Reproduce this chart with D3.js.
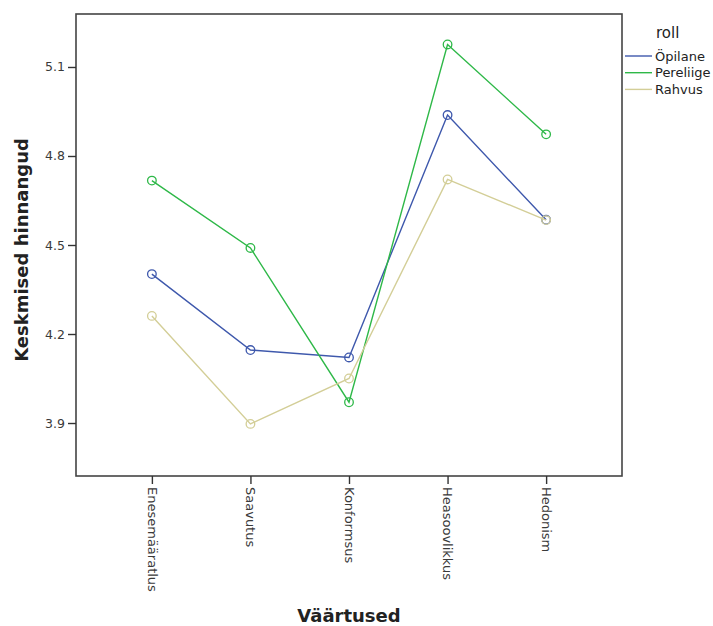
<!DOCTYPE html>
<html>
<head>
<meta charset="utf-8">
<script src="https://cdn.jsdelivr.net/npm/d3@7"></script>
<style>
  body { margin: 0; background: #fff; }
  text { font-family: "DejaVu Sans", sans-serif; }
</style>
</head>
<body>
<div id="chart"></div>
<script>
// Data
const categories = ["Enesemääratlus", "Saavutus", "Konformsus", "Heasoovlikkus", "Hedonism"];
const seriesNames = ["Öpilane", "Pereliige", "Rahvus"];
const opilane = [4.402, 4.146, 4.121, 4.938, 4.585];
const pereliige = [4.717, 4.490, 3.970, 5.176, 4.873];
const rahvus = [4.261, 3.897, 4.050, 4.721, 4.584];
const yTicks = [3.9, 4.2, 4.5, 4.8, 5.1];

const seriesValues = [opilane, pereliige, rahvus];
const colors = d3.scaleOrdinal()
  .domain(seriesNames)
  .range(["#3e58ac", "#2eb848", "#d3ce97"]);

// Dimensions
const W = 713, H = 626;
const margin = {top: 14, right: 91, bottom: 150, left: 76};
const width = W - margin.left - margin.right;
const height = H - margin.top - margin.bottom;

const svg = d3.select("#chart")
  .append("svg")
    .attr("width", W)
    .attr("height", H);

const g = svg.append("g")
  .attr("transform", `translate(${margin.left},${margin.top})`);

// Scales
const x = d3.scalePoint()
  .domain(categories)
  .range([0, width])
  .padding(0.77);

const y = d3.scaleLinear()
  .domain([3.7214, 5.2786])
  .range([height, 0]);

// Frame
g.append("rect")
  .attr("width", width)
  .attr("height", height)
  .attr("fill", "none")
  .attr("stroke", "#444")
  .attr("stroke-width", 1.6);

// Y axis
const yAxis = g.append("g")
  .call(d3.axisLeft(y).tickValues(yTicks).tickFormat(d3.format(".1f")).tickSize(8).tickPadding(3));
yAxis.select(".domain").remove();
yAxis.selectAll("line").attr("stroke", "#333").attr("stroke-width", 1.4);
yAxis.selectAll("text")
  .attr("fill", "#3a3a3a")
  .style("font-size", "12.5px");

// X axis
const xAxis = g.append("g")
  .attr("transform", `translate(0,${height})`)
  .call(d3.axisBottom(x).tickSize(8).tickPadding(0));
xAxis.select(".domain").remove();
xAxis.selectAll("line").attr("stroke", "#333").attr("stroke-width", 1.4);
xAxis.selectAll("text")
  .attr("fill", "#3a3a3a")
  .style("font-size", "13px")
  .attr("text-anchor", "start")
  .attr("transform", "rotate(90)")
  .attr("x", 11)
  .attr("y", 0)
  .attr("dy", "0.35em");

// Lines and markers
const line = d3.line()
  .x((d, i) => x(categories[i]))
  .y(d => y(d));

const series = g.selectAll(".series")
  .data(seriesNames.map((name, i) => ({name: name, values: seriesValues[i]})))
  .enter()
  .append("g")
    .attr("class", "series");

series.append("path")
  .attr("d", d => line(d.values))
  .attr("fill", "none")
  .attr("stroke", d => colors(d.name))
  .attr("stroke-width", 1.4);

series.selectAll("circle")
  .data(d => d.values.map((v, i) => ({name: d.name, cat: categories[i], value: v})))
  .enter()
  .append("circle")
    .attr("cx", d => x(d.cat))
    .attr("cy", d => y(d.value))
    .attr("r", 4.3)
    .attr("fill", "none")
    .attr("stroke", d => colors(d.name))
    .attr("stroke-width", 1.3);

// Axis titles
svg.append("text")
  .attr("transform", `translate(22,250) rotate(-90)`)
  .attr("text-anchor", "middle")
  .attr("dy", "0.35em")
  .style("font-size", "18px")
  .style("font-weight", "bold")
  .attr("fill", "#222")
  .text("Keskmised hinnangud");

svg.append("text")
  .attr("x", margin.left + x("Konformsus"))
  .attr("y", 616)
  .attr("text-anchor", "middle")
  .attr("dy", "0.35em")
  .style("font-size", "18px")
  .style("font-weight", "bold")
  .attr("fill", "#222")
  .text("Väärtused");

// Legend
const legend = svg.append("g")
  .attr("transform", `translate(625, 0)`);

legend.append("text")
  .attr("x", 31)
  .attr("y", 33)
  .attr("dy", "0.35em")
  .style("font-size", "15px")
  .attr("fill", "#222")
  .text("roll");

const legendItems = legend.selectAll(".legend-item")
  .data(seriesNames)
  .enter()
  .append("g")
    .attr("class", "legend-item")
    .attr("transform", (d, i) => `translate(0, ${56 + i * 16.7})`);

legendItems.append("line")
  .attr("x1", 0)
  .attr("x2", 27)
  .attr("stroke", d => colors(d))
  .attr("stroke-width", 1.4);

legendItems.append("text")
  .attr("x", 30)
  .attr("y", 0)
  .attr("dy", "0.35em")
  .style("font-size", "13px")
  .attr("fill", "#222")
  .text(d => d);
</script>
</body>
</html>
